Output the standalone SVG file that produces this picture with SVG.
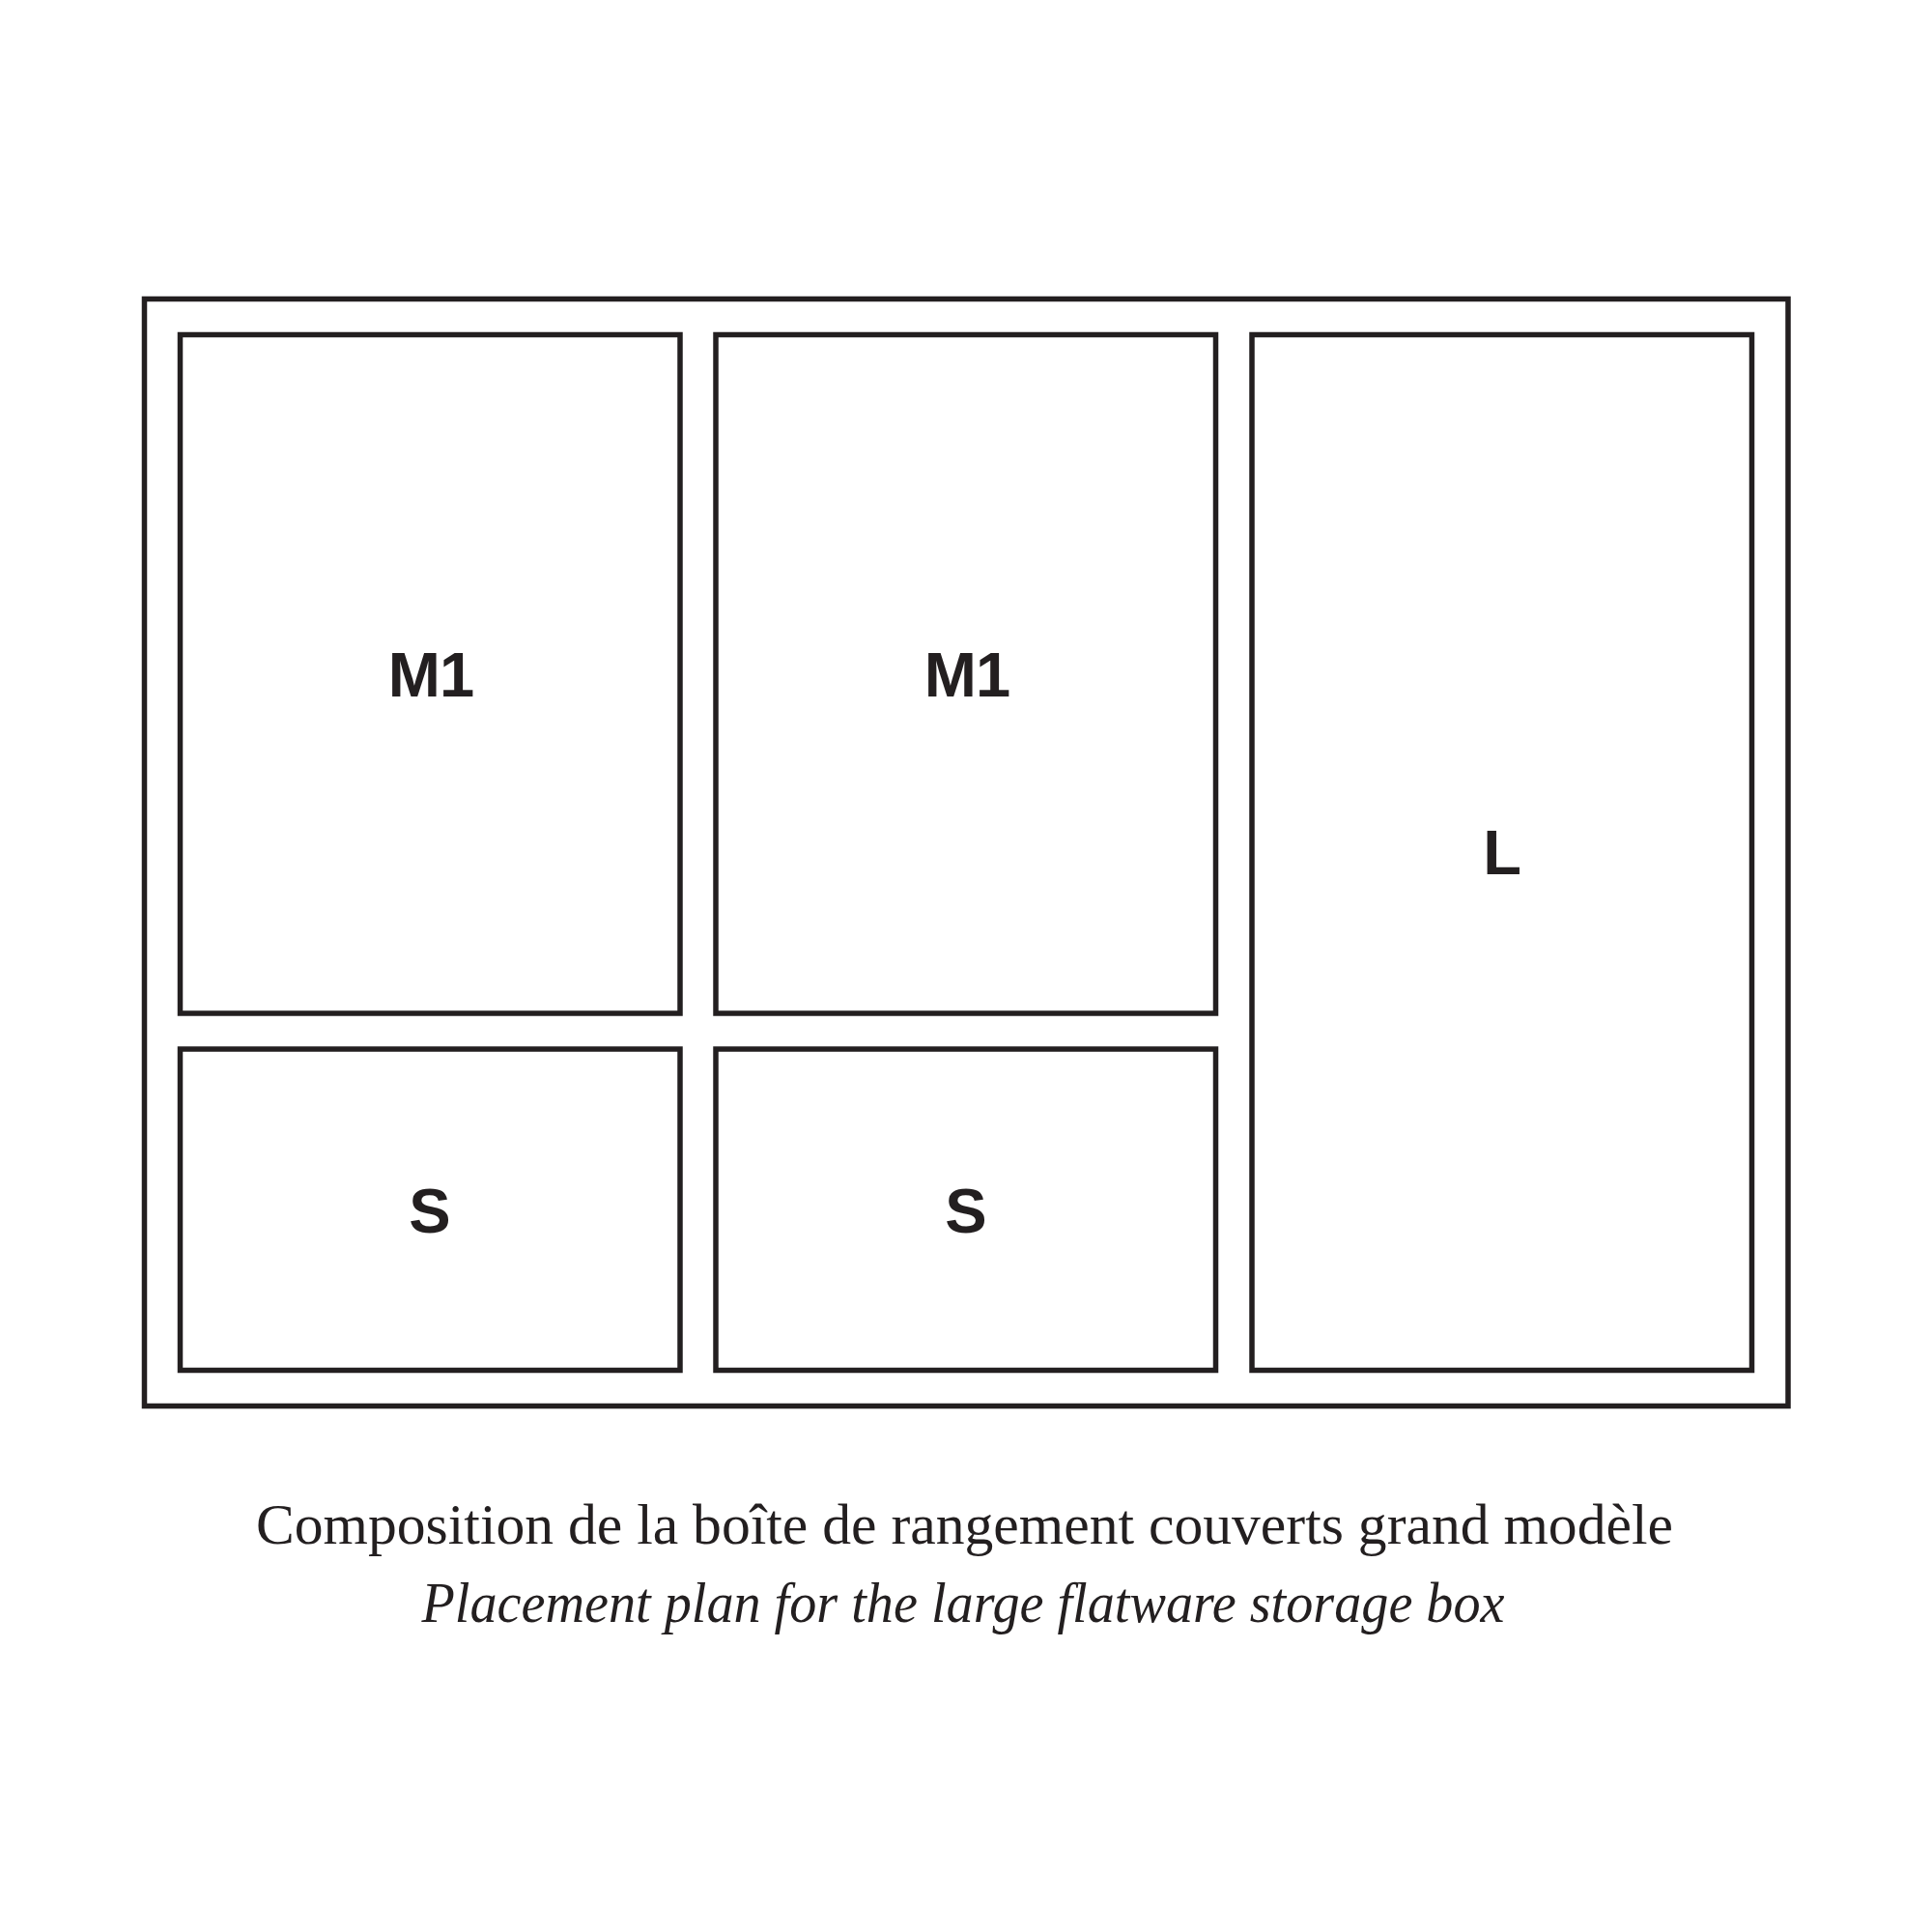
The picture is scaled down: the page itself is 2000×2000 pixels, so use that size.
<svg xmlns="http://www.w3.org/2000/svg" width="2000" height="2000" viewBox="0 0 2000 2000">
<style>
.box{fill:none;stroke:#231f20;stroke-width:5.5}
.lbl{font-family:"Liberation Sans",Arial,sans-serif;font-weight:bold;font-size:65px;fill:#231f20;text-anchor:middle}
.m{letter-spacing:-1px}
.cap{font-family:"Liberation Serif","Times New Roman",serif;font-size:60px;fill:#231f20;text-anchor:middle}
.it{font-style:italic}
</style>
<rect width="2000" height="2000" fill="#fff"/>
<g id="outer"><rect class="box" x="149.5" y="309.5" width="1701.5" height="1146"/></g>
<g id="m1-left"><rect class="box" x="186.5" y="346.5" width="517.5" height="702.5"/><text class="lbl m" x="446" y="721">M1</text></g>
<g id="m1-middle"><rect class="box" x="741" y="346.5" width="517.5" height="702.5"/><text class="lbl m" x="1001" y="721">M1</text></g>
<g id="s-left"><rect class="box" x="186.5" y="1086" width="517.5" height="332.5"/><text class="lbl" x="445" y="1276">S</text></g>
<g id="s-middle"><rect class="box" x="741" y="1086" width="517.5" height="332.5"/><text class="lbl" x="1000" y="1276">S</text></g>
<g id="l-right"><rect class="box" x="1296" y="346.5" width="517.5" height="1072"/><text class="lbl" x="1555" y="905">L</text></g>
<g id="caption">
<text class="cap" x="998.5" y="1598" textLength="1467" lengthAdjust="spacingAndGlyphs">Composition de la boîte de rangement couverts grand modèle</text>
<text class="cap it" x="997" y="1679" textLength="1121" lengthAdjust="spacingAndGlyphs">Placement plan for the large flatware storage box</text>
</g>
</svg>
